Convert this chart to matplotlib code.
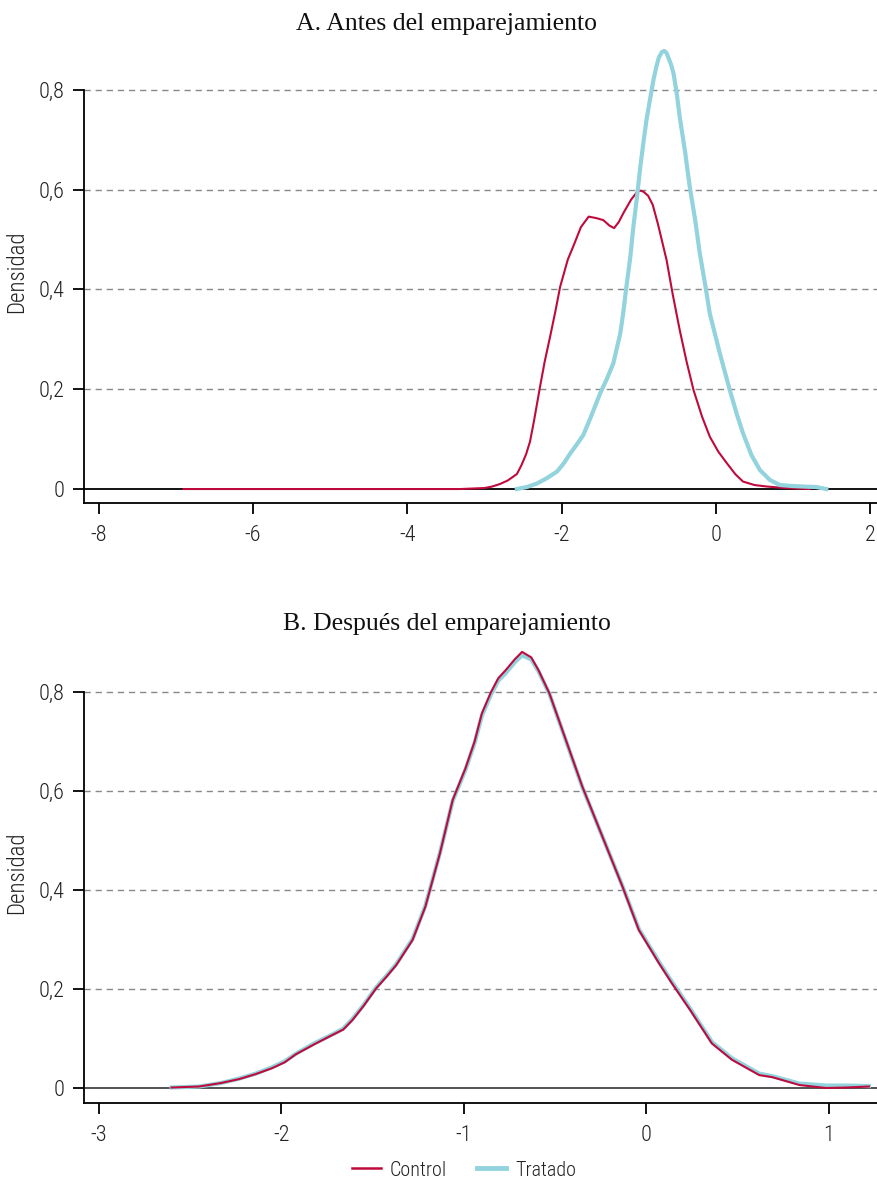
import numpy as np
import matplotlib.pyplot as plt
from matplotlib.ticker import FuncFormatter
from matplotlib.lines import Line2D

plt.rcParams['axes.unicode_minus'] = False
plt.rcParams['font.family'] = ['Roboto Condensed', 'Liberation Sans Narrow', 'DejaVu Sans']

# ----------------------------
# Data (density curves)
# ----------------------------
# A. before matching
a_control_x = [-6.9, -6.0, -5.0, -4.0, -3.31, -3.0, -2.90, -2.80, -2.70, -2.58, -2.52, -2.46, -2.41,
               -2.36, -2.32, -2.28, -2.22, -2.15, -2.08, -2.02, -1.92, -1.85, -1.75, -1.65, -1.55,
               -1.46, -1.38, -1.32, -1.26, -1.20, -1.10, -1.02, -0.98, -0.94, -0.88, -0.82, -0.75,
               -0.64, -0.56, -0.47, -0.38, -0.29, -0.18, -0.08, 0.03, 0.14, 0.25, 0.35, 0.50, 0.66,
               0.90, 1.22]
a_control_y = [0.0, 0.0, 0.0, 0.0, 0.0, 0.002, 0.005, 0.010, 0.017, 0.030, 0.048, 0.070, 0.095,
               0.135, 0.170, 0.205, 0.255, 0.305, 0.357, 0.405, 0.46, 0.486, 0.525, 0.546, 0.543,
               0.539, 0.528, 0.523, 0.535, 0.553, 0.58, 0.596, 0.598, 0.596, 0.588, 0.57, 0.53,
               0.459, 0.39, 0.319, 0.255, 0.198, 0.145, 0.105, 0.075, 0.052, 0.030, 0.015, 0.008,
               0.005, 0.002, 0.0]

a_treated_x = [-2.58, -2.45, -2.32, -2.20, -2.06, -1.97, -1.89, -1.80, -1.72, -1.62, -1.50, -1.41,
               -1.33, -1.24, -1.20, -1.16, -1.11, -1.07, -1.02, -0.98, -0.94, -0.90, -0.85, -0.81,
               -0.77, -0.74, -0.70, -0.67, -0.64, -0.61, -0.58, -0.55, -0.51, -0.47, -0.40, -0.34,
               -0.27, -0.21, -0.14, -0.08, 0.05, 0.18, 0.27, 0.35, 0.46, 0.57, 0.70, 0.83, 1.0,
               1.13, 1.30, 1.43]
a_treated_y = [0.0, 0.004, 0.011, 0.021, 0.035, 0.052, 0.071, 0.090, 0.108, 0.145, 0.192, 0.222,
               0.252, 0.312, 0.355, 0.406, 0.465, 0.526, 0.590, 0.646, 0.695, 0.740, 0.785, 0.820,
               0.848, 0.865, 0.876, 0.878, 0.874, 0.862, 0.850, 0.833, 0.795, 0.746, 0.676, 0.606,
               0.540, 0.473, 0.410, 0.352, 0.272, 0.198, 0.150, 0.112, 0.068, 0.038, 0.018, 0.008,
               0.006, 0.005, 0.004, 0.0]

# B. after matching
b_control_x = [-2.60, -2.45, -2.33, -2.23, -2.14, -2.05, -1.98, -1.92, -1.82, -1.72, -1.66, -1.61,
               -1.55, -1.48, -1.42, -1.37, -1.28, -1.21, -1.13, -1.06, -0.99, -0.94, -0.90, -0.85,
               -0.81, -0.77, -0.72, -0.68, -0.63, -0.59, -0.53, -0.44, -0.35, -0.24, -0.13, -0.04,
               0.07, 0.14, 0.24, 0.36, 0.47, 0.62, 0.69, 0.84, 0.985, 1.10, 1.22]
b_control_y = [0.001, 0.003, 0.010, 0.018, 0.028, 0.040, 0.052, 0.068, 0.088, 0.107, 0.118, 0.137,
               0.165, 0.201, 0.226, 0.248, 0.299, 0.366, 0.474, 0.582, 0.646, 0.700, 0.757, 0.800,
               0.828, 0.844, 0.866, 0.881, 0.870, 0.844, 0.797, 0.703, 0.609, 0.508, 0.407, 0.319,
               0.252, 0.212, 0.158, 0.090, 0.057, 0.026, 0.022, 0.006, 0.0, 0.001, 0.003]

b_treated_x = [-2.60, -2.45, -2.33, -2.23, -2.14, -2.05, -1.98, -1.92, -1.82, -1.72, -1.66, -1.61,
               -1.55, -1.48, -1.42, -1.37, -1.28, -1.21, -1.13, -1.06, -0.99, -0.94, -0.90, -0.85,
               -0.81, -0.77, -0.72, -0.68, -0.63, -0.59, -0.53, -0.44, -0.35, -0.24, -0.13, -0.04,
               0.07, 0.14, 0.24, 0.36, 0.47, 0.62, 0.69, 0.84, 0.985, 1.10, 1.22]
b_treated_y = [0.001, 0.003, 0.010, 0.019, 0.029, 0.042, 0.054, 0.069, 0.090, 0.108, 0.120, 0.139,
               0.167, 0.203, 0.228, 0.250, 0.301, 0.368, 0.475, 0.580, 0.643, 0.697, 0.752, 0.795,
               0.823, 0.838, 0.860, 0.874, 0.866, 0.842, 0.796, 0.702, 0.608, 0.508, 0.408, 0.321,
               0.255, 0.215, 0.161, 0.093, 0.060, 0.029, 0.024, 0.009, 0.005, 0.005, 0.004]

y_ticks = [0, 0.2, 0.4, 0.6, 0.8]
a_xticks = [-8, -6, -4, -2, 0, 2]
b_xticks = [-3, -2, -1, 0, 1]

RED = "#BE0A3C"
TEAL = "#92D3DD"
W, H = 878, 1180

fig = plt.figure(figsize=(W / 100, H / 100), dpi=100)


def make_axes(top_px, bottom_px):
    return fig.add_axes([84 / W, 1 - bottom_px / H, 1 - 84 / W, (bottom_px - top_px) / H])


def comma(v, pos):
    if v == 0:
        return "0"
    return f"{v:.1f}".replace(".", ",")


def style(ax, xticks, zero_color):
    ax.set_yticks(y_ticks)
    ax.yaxis.set_major_formatter(FuncFormatter(comma))
    ax.set_xticks(xticks)
    ax.xaxis.set_major_formatter(FuncFormatter(lambda v, p: f"{v:g}"))
    for s in ["top", "right"]:
        ax.spines[s].set_visible(False)
    ax.spines["left"].set_bounds(ax.get_ylim()[0], 0.8)
    ax.spines["left"].set_linewidth(1.3)
    ax.spines["bottom"].set_linewidth(1.3)
    ax.tick_params(axis="both", length=8, width=1.3, labelsize=16, colors="black")
    ax.tick_params(axis="x", pad=8)
    ax.tick_params(axis="y", pad=6)
    for lab in ax.get_xticklabels() + ax.get_yticklabels():
        lab.set_fontweight("light")
        lab.set_color("#222222")
    for yv in y_ticks[1:]:
        ax.axhline(yv, color="#888888", lw=1.0, ls=(0, (4.5, 3.5)), zorder=1)
    ax.axhline(0, color=zero_color, lw=1.3, zorder=2)
    ax.set_ylabel("Densidad", fontsize=16.5, fontweight="light", color="#222222")


# ----------------------------
# Panel A
# ----------------------------
axA = make_axes(40, 503)
axA.plot(a_control_x, a_control_y, color=RED, lw=1.5, zorder=3, solid_joinstyle="round")
axA.plot(a_treated_x, a_treated_y, color=TEAL, lw=3.0, zorder=4, solid_joinstyle="round")
axA.set_xlim(-8.19, 2.1)
axA.set_ylim(-0.028, 0.9)
style(axA, a_xticks, "black")
fig.text(447 / W, 1 - 24 / H, "A. Antes del emparejamiento", ha="center", va="center",
         fontsize=18.5, family="Liberation Serif", color="#111111")

# ----------------------------
# Panel B
# ----------------------------
axB = make_axes(642.5, 1103)
axB.plot(b_treated_x, b_treated_y, color=TEAL, lw=3.0, zorder=3, solid_joinstyle="round")
axB.plot(b_control_x, b_control_y, color=RED, lw=1.5, zorder=4, solid_joinstyle="round")
axB.set_xlim(-3.08, 1.27)
axB.set_ylim(-0.0303, 0.9)
style(axB, b_xticks, "#444444")
fig.text(447 / W, 1 - 624 / H, "B. Después del emparejamiento", ha="center", va="center",
         fontsize=18.5, family="Liberation Serif", color="#111111")

for ax in (axA, axB):
    ax.yaxis.set_label_coords(-56 / 794, 0.5)

handles = [Line2D([], [], color=RED, lw=1.8), Line2D([], [], color=TEAL, lw=3.5)]
leg = fig.legend(handles, ["Control", "Tratado"], loc="center", ncol=2, frameon=False,
                 bbox_to_anchor=(464 / W, 1 - 1170 / H), fontsize=14.5, handlelength=1.45,
                 columnspacing=1.5, handletextpad=0.45)
for t in leg.get_texts():
    t.set_fontweight("light")
    t.set_color("#222222")

fig.savefig("out.png", dpi=100)
